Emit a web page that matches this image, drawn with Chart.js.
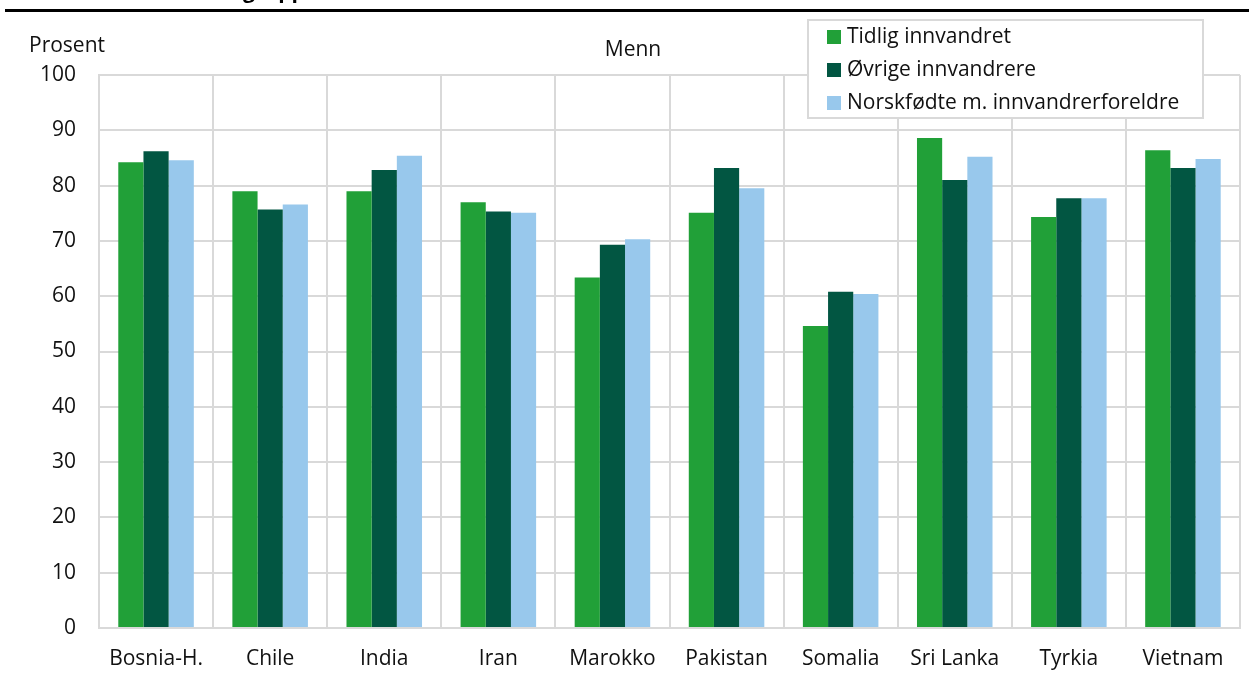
<!DOCTYPE html>
<html>
<head>
<meta charset="utf-8">
<script src="https://cdn.jsdelivr.net/npm/chart.js@4"></script>
<style>
  html, body { margin: 0; padding: 0; background: #fff; }
  #wrap { width: 1249px; height: 675px; position: relative; }
</style>
</head>
<body>
<div id="wrap"><canvas id="mennChart"></canvas></div>
<script>
// data
const categories = ['Bosnia-H.', 'Chile', 'India', 'Iran', 'Marokko', 'Pakistan', 'Somalia', 'Sri Lanka', 'Tyrkia', 'Vietnam'];
const tidligInnvandret = [84.2, 79.0, 79.0, 77.0, 63.4, 75.1, 54.6, 88.6, 74.3, 86.4];
const ovrigeInnvandrere = [86.2, 75.7, 82.8, 75.3, 69.3, 83.2, 60.8, 81.0, 77.7, 83.2];
const norskfodte = [84.6, 76.6, 85.4, 75.1, 70.3, 79.5, 60.4, 85.2, 77.7, 84.8];
const seriesNames = ['Tidlig innvandret', 'Øvrige innvandrere', 'Norskfødte m. innvandrerforeldre'];
const yTicks = [0, 10, 20, 30, 40, 50, 60, 70, 80, 90, 100];

const FONT = '"Open Sans", "Noto Sans", sans-serif';
const gridGrey = '#d9d9d9';
const textCol = '#111';

// title strip, axis captions and the boxed legend on top of the plot
const decorations = {
    id: 'decorations',
    afterDraw(chart) {
        const c = chart.ctx;
        c.save();
        // cut-off title, only descenders show
        c.font = 'bold 21px ' + FONT;
        c.fillStyle = '#000';
        c.textAlign = 'right';
        c.textBaseline = 'alphabetic';
        c.fillText('Andel i arbeid etter innvandrergruppe', 243 + c.measureText('gruppe').width, -2);
        c.fillRect(5, 9, 1244, 3);

        c.font = '21px ' + FONT;
        c.textBaseline = 'middle';
        c.textAlign = 'left';
        c.fillStyle = textCol;
        c.fillText('Prosent', 29, 46);
        c.textAlign = 'center';
        c.fillText('Menn', 633, 50);

        // legend box
        c.fillStyle = '#fff';
        c.fillRect(808, 20, 395, 98);
        c.strokeStyle = gridGrey;
        c.lineWidth = 2;
        c.strokeRect(808, 20, 395, 98);
        c.textAlign = 'left';
        chart.data.datasets.forEach((ds, i) => {
            const cy = 37 + i * 33;
            c.fillStyle = ds.backgroundColor;
            c.fillRect(827, cy - 7, 14, 14);
            c.fillStyle = textCol;
            c.fillText(ds.label, 847, cy);
        });
        c.restore();
    }
};

const ctx = document.getElementById('mennChart').getContext('2d');
const chart = new Chart(ctx, {
    type: 'bar',
    data: {
        labels: categories,
        datasets: [{
            label: seriesNames[0],
            data: tidligInnvandret,
            backgroundColor: '#21a038'
        }, {
            label: seriesNames[1],
            data: ovrigeInnvandrere,
            backgroundColor: '#025642'
        }, {
            label: seriesNames[2],
            data: norskfodte,
            backgroundColor: '#98c8ec'
        }]
    },
    options: {
        responsive: true,
        maintainAspectRatio: false,
        animation: false,
        datasets: {
            bar: {
                categoryPercentage: 0.662,
                barPercentage: 1.0,
                borderWidth: 0
            }
        },
        layout: {
            padding: { left: 0, top: 75, right: 9, bottom: 0 }
        },
        plugins: {
            legend: { display: false },
            tooltip: { enabled: false }
        },
        scales: {
            x: {
                afterFit: (s) => { s.height = 47; },
                grid: {
                    offset: true,
                    color: gridGrey,
                    lineWidth: 2,
                    drawTicks: false
                },
                border: { color: gridGrey, width: 2 },
                ticks: {
                    font: { family: FONT, size: 21 },
                    color: textCol,
                    padding: 18,
                    maxRotation: 0,
                    autoSkip: false
                }
            },
            y: {
                min: 0,
                max: 100,
                afterFit: (s) => { s.width = 99; },
                afterBuildTicks: (s) => { s.ticks = yTicks.map(v => ({ value: v })); },
                grid: {
                    color: gridGrey,
                    lineWidth: 2,
                    drawTicks: false
                },
                border: { color: gridGrey, width: 2 },
                ticks: {
                    font: { family: FONT, size: 21 },
                    color: textCol,
                    padding: 23
                }
            }
        }
    },
    plugins: [decorations]
});
</script>
</body>
</html>
